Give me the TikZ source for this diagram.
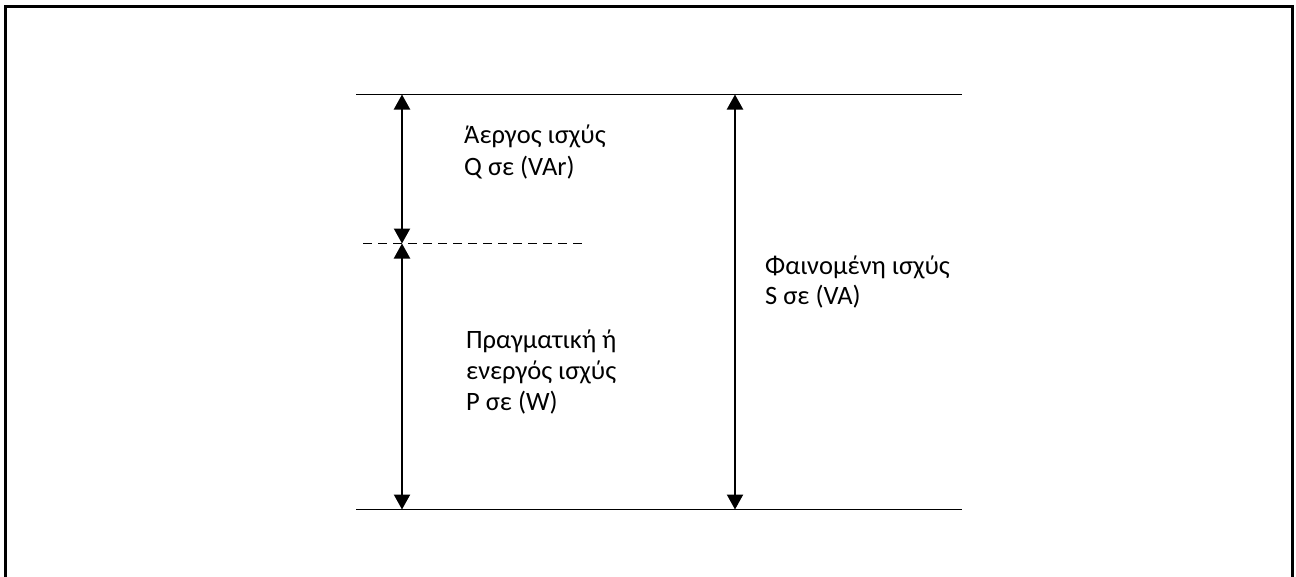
\documentclass[tikz,border=0pt]{standalone}
\usepackage{fontspec}
\setmainfont{Carlito}
\usetikzlibrary{arrows.meta}
\begin{document}
\begin{tikzpicture}[x=1pt,y=-1pt,
  frame/.style={line width=3pt},
  level/.style={line width=1.6pt},
  dim/.style={line width=2.2pt,{Triangle[length=15pt,width=16pt]}-{Triangle[length=15pt,width=16pt]}},
  lbl/.style={anchor=base west,inner sep=0pt,font=\fontsize{26.5}{31}\selectfont}]
\useasboundingbox (0,0) rectangle (1296,576);
\draw[frame] (5,580) -- (5,6.5) -- (1292.5,6.5) -- (1292.5,580);
% levels
\coordinate (tl) at (356,94.5);
\coordinate (tr) at (962,94.5);
\coordinate (bl) at (356,509.5);
\coordinate (br) at (962,509.5);
\coordinate (dl) at (363,243.5);
\coordinate (dr) at (582,243.5);
\draw[level] (tl) -- (tr);
\draw[level] (bl) -- (br);
\draw[level,dash pattern=on 9pt off 6pt] (dl) -- (dr);
% arrow ends
\coordinate (qt) at (402,94.5);
\coordinate (qm) at (402,243.5);
\coordinate (pb) at (402,509.5);
\coordinate (st) at (735,94.5);
\coordinate (sb) at (735,509.5);
\draw[dim] (qt) -- (qm);
\draw[dim] (qm) -- (pb);
\draw[dim] (st) -- (sb);
% labels
\node[lbl] (q1) at (464,143) {Άεργος ισχύς};
\node[lbl] (q2) at (464,175) {Q σε (VAr)};
\node[lbl] (p1) at (466,348.5) {Πραγματική ή};
\node[lbl] (p2) at (466,379.5) {ενεργός ισχύς};
\node[lbl] (p3) at (466,410.5) {P σε (W)};
\node[lbl] (s1) at (765,274) {Φαινομένη ισχύς};
\node[lbl] (s2) at (765,304.5) {S σε (VA)};
\end{tikzpicture}
\end{document}
